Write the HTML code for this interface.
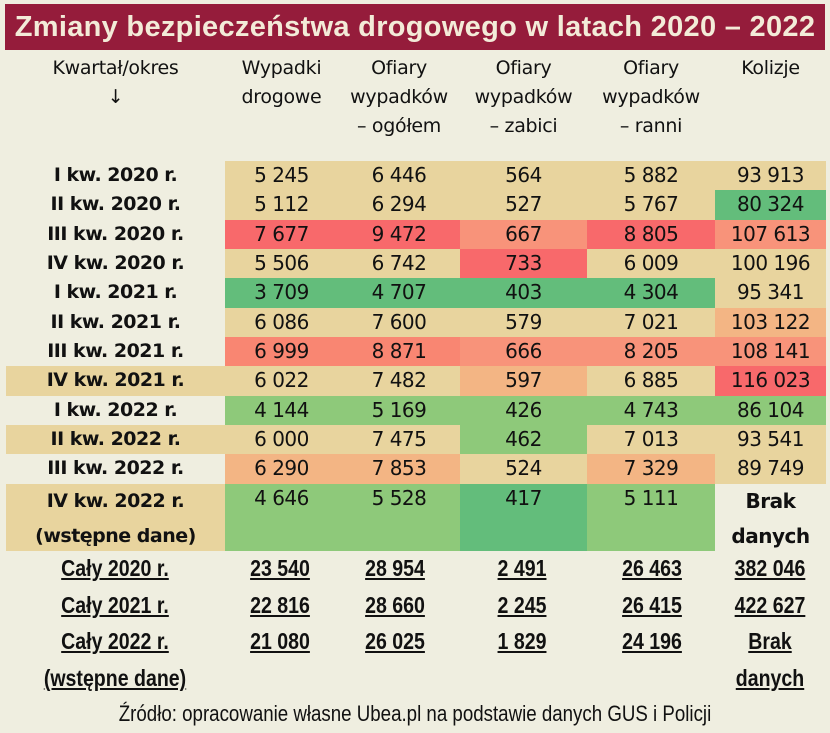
<!DOCTYPE html>
<html><head><meta charset="utf-8"><style>
body{margin:0;width:830px;height:733px;background:#EFEEE0;font-family:"Liberation Sans","DejaVu Sans",sans-serif;position:relative;overflow:hidden;color:#111}
.t{position:absolute;left:5px;top:4px;width:820px;height:46px;background:#951C3B;color:#F3EBD8;font-size:29px;font-weight:bold;line-height:46px;text-align:center;font-family:"Liberation Sans",sans-serif;white-space:nowrap;letter-spacing:0.3px}
.h{position:absolute;text-align:center;font-size:19px;line-height:29px;font-family:"DejaVu Sans",sans-serif;letter-spacing:-0.3px}
.c{position:absolute;text-align:center;font-size:20px;line-height:29px;font-family:"DejaVu Sans",sans-serif;letter-spacing:-0.5px}
.l{position:absolute;text-align:center;font-size:19px;font-weight:bold;line-height:29px;left:6px;width:219px;font-family:"DejaVu Sans",sans-serif;letter-spacing:-0.5px}
.u{position:absolute;text-align:center;font-size:23px;font-weight:bold;line-height:37px;text-decoration:underline;transform:scaleX(0.85)}
</style></head><body>
<div class="t">Zmiany bezpieczeństwa drogowego w latach 2020 – 2022</div>
<div class="h" style="left:6px;width:219px;top:54px">Kwartał/okres<br>↓</div>
<div class="h" style="left:225px;width:113px;top:54px">Wypadki<br>drogowe</div>
<div class="h" style="left:338px;width:122px;top:54px">Ofiary<br>wypadków<br>– ogółem</div>
<div class="h" style="left:460px;width:127px;top:54px">Ofiary<br>wypadków<br>– zabici</div>
<div class="h" style="left:587px;width:128px;top:54px">Ofiary<br>wypadków<br>– ranni</div>
<div class="h" style="left:715px;width:111px;top:54px">Kolizje</div>
<div id="g"></div>
<script>
var T='#E8D49E',R='#F8696B',O='#F8937A',RO='#F98672',LO='#F3B584',G='#8EC97A',D='#63BD7B',B='#EFEEE0';
var rows=[
['I kw. 2020 r.',['5 245','6 446','564','5 882','93 913'],[T,T,T,T,T],0],
['II kw. 2020 r.',['5 112','6 294','527','5 767','80 324'],[T,T,T,T,D],0],
['III kw. 2020 r.',['7 677','9 472','667','8 805','107 613'],[R,R,O,R,O],0],
['IV kw. 2020 r.',['5 506','6 742','733','6 009','100 196'],[T,T,R,T,T],0],
['I kw. 2021 r.',['3 709','4 707','403','4 304','95 341'],[D,D,D,D,T],0],
['II kw. 2021 r.',['6 086','7 600','579','7 021','103 122'],[T,T,T,T,LO],0],
['III kw. 2021 r.',['6 999','8 871','666','8 205','108 141'],[RO,RO,O,O,O],0],
['IV kw. 2021 r.',['6 022','7 482','597','6 885','116 023'],[T,T,LO,T,R],1],
['I kw. 2022 r.',['4 144','5 169','426','4 743','86 104'],[G,G,G,G,G],0],
['II kw. 2022 r.',['6 000','7 475','462','7 013','93 541'],[T,T,G,T,T],1],
['III kw. 2022 r.',['6 290','7 853','524','7 329','89 749'],[LO,LO,T,LO,T],0],
['IV kw. 2022 r.<br>(wstępne dane)',['4 646','5 528','417','5 111','Brak<br>danych'],[G,G,D,G,B],1]];
var cx=[225,338,460,587,715,826],ys=[161,190,220,249,278,308,337,366,396,425,454,484,551],h='';
rows.forEach(function(r,i){var y=ys[i],hh=ys[i+1]-y;
 if(r[3])h+='<div style="position:absolute;left:6px;top:'+y+'px;width:219px;height:'+hh+'px;background:'+T+'"></div>';
 h+='<div class="l" style="top:'+y+'px;line-height:'+(i==11?'35px':'29px')+'">'+r[0]+'</div>';
 for(var j=0;j<5;j++){h+='<div class="c" style="left:'+cx[j]+'px;width:'+(cx[j+1]-cx[j])+'px;top:'+y+'px;height:'+hh+'px;background:'+r[2][j]+(i==11&&j==4?';line-height:35px;font-weight:bold':'')+'">'+r[1][j]+'</div>';}
});
var tot=[['Cały 2020 r.',['23 540','28 954','2 491','26 463','382 046']],['Cały 2021 r.',['22 816','28 660','2 245','26 415','422 627']],['Cały 2022 r.',['21 080','26 025','1 829','24 196','Brak']]];
var lc=[115,280,395,522,652,770];
tot.forEach(function(r,i){var y=550+i*36.5;
 h+='<div class="u" style="left:15px;width:200px;top:'+y+'px">'+r[0]+'</div>';
 for(var j=0;j<5;j++)h+='<div class="u" style="left:'+(lc[j+1]-60)+'px;width:120px;top:'+y+'px">'+r[1][j]+'</div>';});
h+='<div class="u" style="left:15px;width:200px;top:660px">(wstępne dane)</div>';
h+='<div class="u" style="left:710px;width:120px;top:660px">danych</div>';
h+='<div style="position:absolute;left:0;width:830px;top:701px;text-align:center;font-size:22px;transform:scaleX(0.85)">Źródło: opracowanie własne Ubea.pl na podstawie danych GUS i Policji</div>';
document.getElementById('g').innerHTML=h;
</script>
</body></html>
